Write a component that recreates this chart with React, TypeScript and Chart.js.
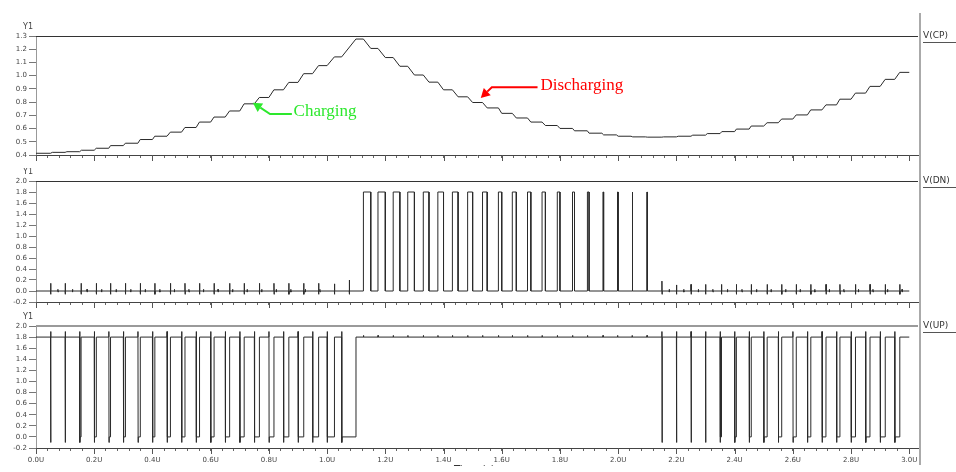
import React, { useEffect, useRef } from "react";
import { Chart, registerables } from "chart.js";
Chart.register(...registerables);

// ---------------- data ----------------
const T_END = 3.0;
const CP_INITIAL = 0.413;

// first charging phase: UP low pulses (start time, low width) and CP level after each
const UP_PHASE1_T = [0.05, 0.10, 0.15, 0.20, 0.25, 0.30, 0.35, 0.40, 0.45, 0.50, 0.55, 0.60, 0.65, 0.70, 0.75, 0.80, 0.85, 0.90, 0.95, 1.00, 1.05];
const UP_PHASE1_W = [0, 0, 0.0046, 0.0069, 0.0057, 0.0069, 0.008, 0.008, 0.0115, 0.0115, 0.0115, 0.0115, 0.0149, 0.0149, 0.0172, 0.0172, 0.0183, 0.0195, 0.0206, 0.025, 0.049];
const CP_PHASE1 = [0.420, 0.425, 0.436, 0.451, 0.471, 0.489, 0.517, 0.542, 0.573, 0.608, 0.649, 0.687, 0.733, 0.787, 0.835, 0.893, 0.949, 1.015, 1.076, 1.142, 1.277];
const DN_SPIKE1 = [0.14, 0.14, 0.14, 0.14, 0.14, 0.14, 0.14, 0.14, 0.14, 0.14, 0.14, 0.14, 0.14, 0.14, 0.14, 0.14, 0.14, 0.14, 0.14, 0.13, 0.2];

// discharging phase: DN high pulses (end time, width) and CP level after each
const DN_END_T = [1.15, 1.20, 1.25, 1.30, 1.35, 1.40, 1.45, 1.50, 1.55, 1.60, 1.65, 1.70, 1.75, 1.80, 1.85, 1.90, 1.95, 2.00, 2.05, 2.10];
const DN_W = [0.0252, 0.0252, 0.0229, 0.0229, 0.0195, 0.0195, 0.0195, 0.0172, 0.016, 0.0115, 0.0137, 0.0115, 0.0115, 0.0092, 0.0069, 0.0057, 0.0023, 0.0023, 0.0023, 0.0011];
const CP_DISCHARGE = [1.206, 1.137, 1.071, 1.005, 0.951, 0.893, 0.840, 0.797, 0.756, 0.715, 0.680, 0.649, 0.623, 0.601, 0.583, 0.565, 0.552, 0.542, 0.537, 0.535];

// second charging phase
const UP_PHASE2_T = [2.15, 2.20, 2.25, 2.30, 2.35, 2.40, 2.45, 2.50, 2.55, 2.60, 2.65, 2.70, 2.75, 2.80, 2.85, 2.90, 2.95];
const UP_PHASE2_W = [0, 0, 0, 0, 0.0046, 0.0057, 0.0069, 0.0115, 0.0115, 0.0115, 0.0115, 0.0137, 0.0115, 0.0149, 0.0149, 0.0172, 0.0172];
const CP_PHASE2 = [0.537, 0.542, 0.550, 0.562, 0.577, 0.596, 0.619, 0.644, 0.672, 0.703, 0.741, 0.779, 0.822, 0.868, 0.919, 0.972, 1.025];
const DN_SPIKE2 = [0.18, 0.11, 0.12, 0.12, 0.12, 0.12, 0.12, 0.12, 0.12, 0.12, 0.12, 0.12, 0.12, 0.12, 0.12, 0.12, 0.12];

const UP_HIGH = 1.8;
const UP_OVERSHOOT = 1.9;
const UP_UNDERSHOOT = -0.1;
const DN_HIGH = 1.8;
const DN_SPIKE_LOW = -0.06;

// annotation anchor points (data units)
const CHARGING_ARROW = { tip: [0.745, 0.795], elbow: [0.804, 0.71], end: [0.879, 0.71], text: [0.885, 0.726] };
const DISCHARGING_ARROW = { tip: [1.528, 0.832], elbow: [1.566, 0.913], end: [1.723, 0.913], text: [1.733, 0.926] };

// ---------------- build waveforms ----------------
type P = { x: number; y: number };

function buildCP(): P[] {
  const pts: P[] = [{ x: 0, y: CP_INITIAL }];
  let lv = CP_INITIAL;
  UP_PHASE1_T.forEach((t, i) => {
    const r = Math.max(UP_PHASE1_W[i], 0.006);
    pts.push({ x: t, y: lv }, { x: t + r, y: CP_PHASE1[i] });
    lv = CP_PHASE1[i];
  });
  DN_END_T.forEach((e, i) => {
    const r = Math.max(DN_W[i], 0.006);
    pts.push({ x: e - r, y: lv }, { x: e, y: CP_DISCHARGE[i] });
    lv = CP_DISCHARGE[i];
  });
  UP_PHASE2_T.forEach((t, i) => {
    const r = Math.max(UP_PHASE2_W[i], 0.006);
    pts.push({ x: t, y: lv }, { x: t + r, y: CP_PHASE2[i] });
    lv = CP_PHASE2[i];
  });
  pts.push({ x: T_END, y: lv });
  return pts;
}

function upPulse(pts: P[], t: number, w: number) {
  pts.push({ x: t, y: UP_HIGH }, { x: t + 0.0003, y: UP_OVERSHOOT }, { x: t + 0.0008, y: UP_UNDERSHOOT });
  if (w > 0.002) {
    pts.push({ x: t + 0.0015, y: 0 }, { x: t + w, y: 0 }, { x: t + w + 0.0003, y: UP_HIGH });
  } else {
    pts.push({ x: t + 0.0015, y: UP_HIGH });
  }
}

function buildUP(): P[] {
  const pts: P[] = [{ x: 0, y: UP_HIGH }];
  UP_PHASE1_T.forEach((t, i) => upPulse(pts, t, UP_PHASE1_W[i]));
  DN_END_T.forEach((e, i) => {
    const s = e - DN_W[i];
    pts.push({ x: s, y: UP_HIGH }, { x: s + 0.0004, y: 1.83 }, { x: s + 0.0008, y: UP_HIGH });
  });
  UP_PHASE2_T.forEach((t, i) => upPulse(pts, t, UP_PHASE2_W[i]));
  pts.push({ x: T_END, y: UP_HIGH });
  return pts;
}

function dnGlitch(pts: P[], t: number, hi: number, lo: number) {
  pts.push({ x: t, y: 0 }, { x: t + 0.0003, y: hi }, { x: t + 0.0008, y: lo }, { x: t + 0.0013, y: 0 });
}

function buildDN(): P[] {
  const pts: P[] = [{ x: 0, y: 0 }];
  const idle = (ts: number[], ws: number[], hs: number[]) => {
    ts.forEach((t, i) => {
      const s = t + Math.min(ws[i], 0.026);
      dnGlitch(pts, s, hs[i], DN_SPIKE_LOW);
      const m = t + 0.025;
      if (m - s > 0.003) dnGlitch(pts, m, 0.03, -0.02);
    });
  };
  idle(UP_PHASE1_T, UP_PHASE1_W, DN_SPIKE1);
  DN_END_T.forEach((e, i) => {
    const s = e - DN_W[i];
    pts.push({ x: s, y: 0 }, { x: s, y: DN_HIGH }, { x: e, y: DN_HIGH }, { x: e, y: 0 });
  });
  idle(UP_PHASE2_T, UP_PHASE2_W, DN_SPIKE2);
  pts.push({ x: T_END, y: 0 });
  return pts;
}

// ---------------- panels ----------------
const TICK_FONT = { family: "DejaVu Sans", size: 7 };

type PanelCfg = {
  name: string;
  canvasTop: number;
  canvasH: number;
  padTop: number;
  xH: number;
  yMin: number;
  yMax: number;
  yStep: number;
  showX: boolean;
  topColor: string;
  topWidth: number;
  vStart: number;
  vEnd: number;
  data: () => P[];
};

const PANELS: PanelCfg[] = [
  { name: "V(CP)", canvasTop: 0, canvasH: 168, padTop: 36, xH: 13, yMin: 0.4, yMax: 1.3, yStep: 0.1, showX: false, topColor: "#333", topWidth: 1, vStart: 13, vEnd: 168, data: buildCP },
  { name: "V(DN)", canvasTop: 168, canvasH: 142, padTop: 13, xH: 8, yMin: -0.2, yMax: 2.0, yStep: 0.2, showX: false, topColor: "#333", topWidth: 1, vStart: 0, vEnd: 142, data: buildDN },
  { name: "V(UP)", canvasTop: 310, canvasH: 162, padTop: 16, xH: 24, yMin: -0.2, yMax: 2.0, yStep: 0.2, showX: true, topColor: "#9a9a9a", topWidth: 2, vStart: 0, vEnd: 155, data: buildUP },
];

function drawArrow(ctx: CanvasRenderingContext2D, chart: any, a: any, color: string, label: string) {
  const xs = chart.scales.x;
  const ys = chart.scales.y;
  const px = (p: number[]) => [xs.getPixelForValue(p[0]), ys.getPixelForValue(p[1])];
  const tip = px(a.tip);
  const elbow = px(a.elbow);
  const end = px(a.end);
  const txt = px(a.text);
  ctx.save();
  ctx.strokeStyle = color;
  ctx.fillStyle = color;
  ctx.lineWidth = 2;
  const dx = tip[0] - elbow[0];
  const dy = tip[1] - elbow[1];
  const len = Math.hypot(dx, dy);
  const ux = dx / len;
  const uy = dy / len;
  const headLen = 9;
  const bx = tip[0] - ux * headLen;
  const by = tip[1] - uy * headLen;
  ctx.beginPath();
  ctx.moveTo(end[0], end[1]);
  ctx.lineTo(elbow[0], elbow[1]);
  ctx.lineTo(bx, by);
  ctx.stroke();
  ctx.beginPath();
  ctx.moveTo(tip[0], tip[1]);
  ctx.lineTo(bx - uy * 5, by + ux * 5);
  ctx.lineTo(bx + uy * 5, by - ux * 5);
  ctx.closePath();
  ctx.fill();
  ctx.font = "17px 'Liberation Serif'";
  ctx.textAlign = "left";
  ctx.textBaseline = "middle";
  ctx.fillText(label, txt[0], txt[1]);
  ctx.restore();
}

function makeChart(canvas: HTMLCanvasElement, cfg: PanelCfg, idx: number) {
  const decor = {
    id: "decor" + idx,
    afterDraw(chart: any) {
      const ctx: CanvasRenderingContext2D = chart.ctx;
      const { left, right, top, bottom } = chart.chartArea;
      const xs = chart.scales.x;
      ctx.save();
      // top frame line
      ctx.strokeStyle = cfg.topColor;
      ctx.lineWidth = cfg.topWidth;
      ctx.beginPath();
      const ty = cfg.topWidth === 1 ? Math.round(top) + 0.5 : Math.round(top);
      ctx.moveTo(left, ty);
      ctx.lineTo(right, ty);
      ctx.stroke();
      // longer major x ticks
      ctx.strokeStyle = "#555";
      ctx.lineWidth = 1;
      ctx.beginPath();
      for (let i = 0; i <= 15; i++) {
        const x = Math.round(xs.getPixelForValue(i * 0.2)) + 0.5;
        ctx.moveTo(x, bottom);
        ctx.lineTo(x, bottom + 6);
      }
      ctx.stroke();
      // Y1 label
      ctx.fillStyle = "#444";
      ctx.font = "8px 'DejaVu Sans'";
      ctx.textAlign = "center";
      ctx.textBaseline = "middle";
      ctx.fillText("Y1", 28, top - 9);
      // right trace label with underline
      ctx.fillStyle = "#333";
      ctx.font = "9px 'DejaVu Sans'";
      ctx.textAlign = "left";
      ctx.fillText(cfg.name, 923, top);
      ctx.strokeStyle = "#555";
      ctx.beginPath();
      ctx.moveTo(923, Math.round(top) + 6.5);
      ctx.lineTo(956, Math.round(top) + 6.5);
      ctx.stroke();
      // right separator
      ctx.strokeStyle = "#aaaaaa";
      ctx.lineWidth = 2;
      ctx.beginPath();
      ctx.moveTo(920, cfg.vStart);
      ctx.lineTo(920, cfg.vEnd);
      ctx.stroke();
      if (idx === 0) {
        drawArrow(ctx, chart, CHARGING_ARROW, "#2de82d", "Charging");
        drawArrow(ctx, chart, DISCHARGING_ARROW, "#ff0000", "Discharging");
      }
      if (idx === 2) {
        ctx.save();
        ctx.beginPath();
        ctx.rect(0, 0, 956, 156);
        ctx.clip();
        ctx.fillStyle = "#333";
        ctx.font = "10px 'DejaVu Sans'";
        ctx.textAlign = "left";
        ctx.textBaseline = "alphabetic";
        ctx.fillText("Time (s)", 454, 162.5);
        ctx.restore();
      }
      ctx.restore();
    },
  };

  return new Chart(canvas, {
    type: "line",
    data: {
      datasets: [
        {
          data: cfg.data(),
          borderColor: "#2a2a2a",
          borderWidth: 1,
          pointRadius: 0,
          tension: 0,
          fill: false,
        },
      ],
    },
    options: {
      responsive: false,
      animation: false,
      devicePixelRatio: 1,
      events: [],
      parsing: true,
      layout: { padding: { left: 0, right: 38, top: cfg.padTop, bottom: 0 } },
      plugins: { legend: { display: false }, tooltip: { enabled: false } },
      scales: {
        x: {
          type: "linear",
          min: 0,
          max: 3.03,
          afterFit: (s: any) => {
            s.height = cfg.xH;
          },
          ticks: {
            display: cfg.showX,
            stepSize: 0.04,
            includeBounds: false,
            autoSkip: false,
            maxRotation: 0,
            minRotation: 0,
            padding: 5,
            font: TICK_FONT,
            color: "#444",
            callback: (v: any) => {
              const n = Math.round(Number(v) * 100);
              return n % 20 === 0 ? (n / 100).toFixed(1) + "U" : "";
            },
          },
          grid: { drawOnChartArea: false, drawTicks: true, tickLength: 3, color: "#666" },
          border: { display: true, color: "#444", width: 1 },
        },
        y: {
          type: "linear",
          min: cfg.yMin,
          max: cfg.yMax,
          afterFit: (s: any) => {
            s.width = 36;
          },
          ticks: {
            stepSize: cfg.yStep,
            autoSkip: false,
            padding: 2,
            font: TICK_FONT,
            color: "#444",
            callback: (v: any) => Number(v).toFixed(1),
          },
          grid: { drawOnChartArea: false, drawTicks: true, tickLength: 7, color: "#777" },
          border: { display: true, color: "#999", width: 1 },
        },
      },
    } as any,
    plugins: [decor],
  });
}

export default function App() {
  const r0 = useRef<HTMLCanvasElement>(null);
  const r1 = useRef<HTMLCanvasElement>(null);
  const r2 = useRef<HTMLCanvasElement>(null);

  useEffect(() => {
    const refs = [r0, r1, r2];
    const charts = PANELS.map((cfg, i) => makeChart(refs[i].current as HTMLCanvasElement, cfg, i));
    return () => charts.forEach((c) => c.destroy());
  }, []);

  const refs = [r0, r1, r2];
  return (
    <div style={{ position: "fixed", left: 0, top: 0, width: 956, height: 472, background: "#fff", overflow: "hidden" }}>
      {PANELS.map((cfg, i) => (
        <canvas
          key={cfg.name}
          ref={refs[i]}
          width={956}
          height={cfg.canvasH}
          style={{ position: "absolute", left: 0, top: cfg.canvasTop, width: 956, height: cfg.canvasH }}
        />
      ))}
    </div>
  );
}
